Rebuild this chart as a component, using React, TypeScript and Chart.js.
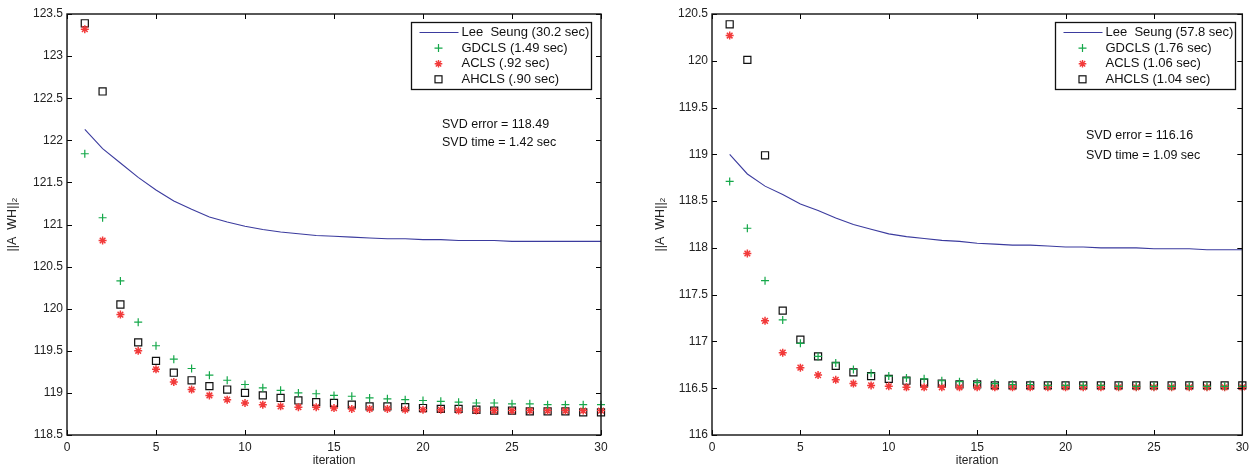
import React, { useEffect, useRef } from 'react';
import { Chart, registerables } from 'chart.js';
Chart.register(...registerables);

const iterations = [1, 2, 3, 4, 5, 6, 7, 8, 9, 10, 11, 12, 13, 14, 15, 16, 17, 18, 19, 20, 21, 22, 23, 24, 25, 26, 27, 28, 29, 30];

const leftLee = [122.13, 121.90, 121.73, 121.56, 121.41, 121.28, 121.18, 121.09, 121.03, 120.98, 120.94, 120.91, 120.89, 120.87, 120.86, 120.85, 120.84, 120.83, 120.83, 120.82, 120.82, 120.81, 120.81, 120.81, 120.80, 120.80, 120.80, 120.80, 120.80, 120.80];
const leftGDCLS = [121.84, 121.08, 120.33, 119.84, 119.56, 119.40, 119.29, 119.21, 119.15, 119.10, 119.06, 119.03, 119.00, 118.99, 118.97, 118.96, 118.94, 118.93, 118.92, 118.91, 118.90, 118.89, 118.88, 118.88, 118.87, 118.87, 118.86, 118.86, 118.86, 118.86];
const leftACLS = [123.32, 120.81, 119.93, 119.50, 119.28, 119.13, 119.04, 118.97, 118.92, 118.88, 118.86, 118.84, 118.83, 118.83, 118.82, 118.81, 118.81, 118.81, 118.80, 118.80, 118.80, 118.79, 118.79, 118.79, 118.79, 118.79, 118.79, 118.79, 118.79, 118.79];
const leftAHCLS = [123.39, 122.58, 120.05, 119.60, 119.38, 119.24, 119.15, 119.08, 119.04, 119.00, 118.97, 118.94, 118.91, 118.89, 118.88, 118.86, 118.84, 118.84, 118.83, 118.82, 118.81, 118.81, 118.80, 118.79, 118.79, 118.78, 118.78, 118.78, 118.77, 118.77];

const rightLee = [119.00, 118.79, 118.66, 118.57, 118.47, 118.40, 118.32, 118.25, 118.20, 118.15, 118.12, 118.10, 118.08, 118.07, 118.05, 118.04, 118.03, 118.03, 118.02, 118.01, 118.01, 118.00, 118.00, 118.00, 117.99, 117.99, 117.99, 117.98, 117.98, 117.98];
const rightGDCLS = [118.71, 118.21, 117.65, 117.23, 116.98, 116.84, 116.77, 116.70, 116.66, 116.63, 116.61, 116.60, 116.58, 116.57, 116.56, 116.55, 116.54, 116.54, 116.53, 116.53, 116.53, 116.53, 116.52, 116.52, 116.52, 116.52, 116.52, 116.52, 116.52, 116.52];
const rightACLS = [120.27, 117.94, 117.22, 116.88, 116.72, 116.64, 116.59, 116.55, 116.53, 116.52, 116.51, 116.51, 116.51, 116.51, 116.51, 116.51, 116.51, 116.51, 116.51, 116.51, 116.51, 116.51, 116.51, 116.51, 116.51, 116.51, 116.51, 116.51, 116.51, 116.51];
const rightAHCLS = [120.39, 120.01, 118.99, 117.33, 117.02, 116.84, 116.74, 116.67, 116.63, 116.60, 116.58, 116.56, 116.55, 116.54, 116.54, 116.53, 116.53, 116.53, 116.53, 116.53, 116.53, 116.53, 116.53, 116.53, 116.53, 116.53, 116.53, 116.53, 116.53, 116.53];

const leftLegendLabels = ['Lee  Seung (30.2 sec)', 'GDCLS (1.49 sec)', 'ACLS (.92 sec)', 'AHCLS (.90 sec)'];
const rightLegendLabels = ['Lee  Seung (57.8 sec)', 'GDCLS (1.76 sec)', 'ACLS (1.06 sec)', 'AHCLS (1.04 sec)'];
const leftNotes = ['SVD error = 118.49', 'SVD time = 1.42 sec'];
const rightNotes = ['SVD error = 116.16', 'SVD time = 1.09 sec'];

const xTitle = 'iteration';
const yTitle = '||A  WH||\u2082';

const FONT = '"Liberation Sans", Arial, Helvetica, sans-serif';
const BLUE = '#3b3b9e';
const GREEN = '#15a84a';
const RED = '#f23a3a';
const BLACK = '#111111';

function pts(vals: number[]) {
  return vals.map((v, i) => ({ x: iterations[i], y: v }));
}

function drawMarker(ctx: CanvasRenderingContext2D, kind: string, x: number, y: number) {
  ctx.save();
  ctx.lineWidth = 1.2;
  if (kind === 'cross') {
    ctx.strokeStyle = GREEN;
    ctx.beginPath();
    ctx.moveTo(x - 4, y); ctx.lineTo(x + 4, y);
    ctx.moveTo(x, y - 4); ctx.lineTo(x, y + 4);
    ctx.stroke();
  } else if (kind === 'star') {
    ctx.strokeStyle = RED;
    ctx.lineWidth = 1.4;
    ctx.beginPath();
    for (let k = 0; k < 4; k++) {
      const a = (k * Math.PI) / 4;
      ctx.moveTo(x - 3.8 * Math.cos(a), y - 3.8 * Math.sin(a));
      ctx.lineTo(x + 3.8 * Math.cos(a), y + 3.8 * Math.sin(a));
    }
    ctx.stroke();
  } else if (kind === 'rect') {
    ctx.strokeStyle = BLACK;
    ctx.strokeRect(x - 3.5, y - 3.5, 7, 7);
  }
  ctx.restore();
}

type PanelProps = {
  left: number;
  width: number;
  yWidth: number;
  rightPad: number;
  yMin: number;
  yMax: number;
  yTitlePad: number;
  lee: number[];
  gd: number[];
  ac: number[];
  ah: number[];
  legendLabels: string[];
  legendBox: { x: number; y: number; w: number; h: number };
  notes: string[];
  notePos: { x: number; y1: number; y2: number };
};

function Panel(p: PanelProps) {
  const ref = useRef<HTMLCanvasElement | null>(null);
  useEffect(() => {
    if (!ref.current) return;
    const framePlugin = {
      id: 'frame' + p.left,
      afterDraw(chart: any) {
        const ctx: CanvasRenderingContext2D = chart.ctx;
        const a = chart.chartArea;
        const xs = chart.scales.x;
        const ys = chart.scales.y;
        ctx.save();
        ctx.strokeStyle = '#000';
        ctx.lineWidth = 1;
        const tl = 5;
        ctx.beginPath();
        for (const t of ys.ticks) {
          const py = Math.round(ys.getPixelForValue(t.value)) + 0.5;
          ctx.moveTo(a.left, py); ctx.lineTo(a.left + tl, py);
          ctx.moveTo(a.right, py); ctx.lineTo(a.right - tl, py);
        }
        for (const t of xs.ticks) {
          const px = Math.round(xs.getPixelForValue(t.value)) + 0.5;
          ctx.moveTo(px, a.bottom); ctx.lineTo(px, a.bottom - tl);
          ctx.moveTo(px, a.top); ctx.lineTo(px, a.top + tl);
        }
        ctx.stroke();
        ctx.lineWidth = 1.4;
        ctx.strokeStyle = '#111';
        ctx.strokeRect(a.left, a.top, a.right - a.left, a.bottom - a.top);

        // legend
        const b = p.legendBox;
        ctx.fillStyle = '#fff';
        ctx.fillRect(b.x, b.y, b.w, b.h);
        ctx.lineWidth = 1.3;
        ctx.strokeStyle = '#111';
        ctx.strokeRect(b.x, b.y, b.w, b.h);
        ctx.font = '13px ' + FONT;
        ctx.textBaseline = 'middle';
        ctx.textAlign = 'left';
        const kinds = ['line', 'cross', 'star', 'rect'];
        for (let i = 0; i < 4; i++) {
          const ry = b.y + 10 + i * 15.6;
          if (kinds[i] === 'line') {
            ctx.strokeStyle = BLUE;
            ctx.lineWidth = 1;
            ctx.beginPath();
            ctx.moveTo(b.x + 8, ry); ctx.lineTo(b.x + 47, ry);
            ctx.stroke();
          } else {
            drawMarker(ctx, kinds[i], b.x + 27, ry);
          }
          ctx.fillStyle = '#111';
          ctx.fillText(p.legendLabels[i], b.x + 50, ry);
        }
        ctx.font = '12.5px ' + FONT;
        ctx.fillText(p.notes[0], p.notePos.x, p.notePos.y1);
        ctx.fillText(p.notes[1], p.notePos.x, p.notePos.y2);
        ctx.restore();
      },
    };

    const chart = new Chart(ref.current, {
      type: 'scatter',
      data: {
        datasets: [
          {
            label: 'Lee Seung',
            data: pts(p.lee),
            showLine: true,
            borderColor: BLUE,
            borderWidth: 1.1,
            pointRadius: 0,
            tension: 0,
            clip: false,
          },
          {
            label: 'GDCLS',
            data: pts(p.gd),
            showLine: false,
            pointStyle: 'cross',
            pointRadius: 4,
            borderColor: GREEN,
            borderWidth: 1.2,
            clip: false,
          },
          {
            label: 'ACLS',
            data: pts(p.ac),
            showLine: false,
            pointStyle: 'star',
            pointRadius: 4,
            borderColor: RED,
            borderWidth: 1.5,
            clip: false,
          },
          {
            label: 'AHCLS',
            data: pts(p.ah),
            showLine: false,
            pointStyle: 'rect',
            pointRadius: 5,
            borderColor: BLACK,
            backgroundColor: 'rgba(0,0,0,0)',
            borderWidth: 1.2,
            clip: false,
          },
        ],
      } as any,
      options: {
        animation: false,
        responsive: false,
        events: [],
        layout: { padding: { left: 0, right: p.rightPad, top: 14, bottom: 0 } },
        plugins: { legend: { display: false }, tooltip: { enabled: false }, title: { display: false } },
        scales: {
          x: {
            type: 'linear',
            min: 0,
            max: 30,
            grid: { display: false, drawTicks: false },
            border: { display: false },
            ticks: { stepSize: 5, padding: 5, color: '#222', font: { size: 12, family: FONT }, maxRotation: 0, callback: (v: any) => String(v) },
            title: { display: true, text: xTitle, color: '#222', font: { size: 12, family: FONT }, padding: { top: 0, bottom: 0 } },
            afterFit: (s: any) => { s.height = 33; },
          },
          y: {
            type: 'linear',
            min: p.yMin,
            max: p.yMax,
            grid: { display: false, drawTicks: false },
            border: { display: false },
            ticks: { stepSize: 0.5, padding: 4, color: '#222', font: { size: 12, family: FONT }, callback: (v: any) => String(Math.round(Number(v) * 10) / 10) },
            title: { display: true, text: yTitle, color: '#222', font: { size: 12.5, family: FONT }, padding: { top: p.yTitlePad, bottom: 0 } },
            afterFit: (s: any) => { s.width = p.yWidth; },
          },
        },
      } as any,
      plugins: [framePlugin],
    });
    return () => chart.destroy();
  }, []);
  return (
    <canvas
      ref={ref}
      width={p.width}
      height={468}
      style={{ position: 'absolute', left: p.left, top: 0, width: p.width, height: 468 }}
    />
  );
}

export default function App() {
  return (
    <div style={{ position: 'fixed', left: 0, top: 0, width: 1254, height: 468, background: '#fff', overflow: 'hidden' }}>
      <Panel
        left={0}
        width={640}
        yWidth={67}
        rightPad={39}
        yMin={118.5}
        yMax={123.5}
        yTitlePad={5}
        lee={leftLee}
        gd={leftGDCLS}
        ac={leftACLS}
        ah={leftAHCLS}
        legendLabels={leftLegendLabels}
        legendBox={{ x: 411.5, y: 22.5, w: 180, h: 67 }}
        notes={leftNotes}
        notePos={{ x: 442, y1: 125, y2: 143 }}
      />
      <Panel
        left={627}
        width={627}
        yWidth={85}
        rightPad={6}
        yMin={116}
        yMax={120.5}
        yTitlePad={26}
        lee={rightLee}
        gd={rightGDCLS}
        ac={rightACLS}
        ah={rightAHCLS}
        legendLabels={rightLegendLabels}
        legendBox={{ x: 428.5, y: 22.5, w: 180, h: 67 }}
        notes={rightNotes}
        notePos={{ x: 459, y1: 136, y2: 156 }}
      />
    </div>
  );
}
